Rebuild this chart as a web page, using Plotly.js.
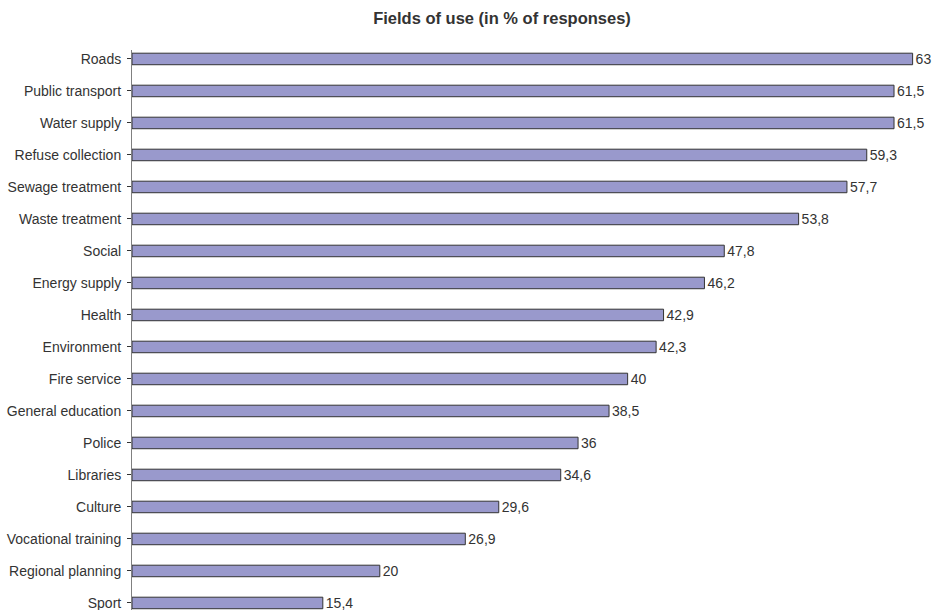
<!DOCTYPE html>
<html>
<head>
<meta charset="utf-8">
<script src="https://cdn.plot.ly/plotly-3.0.1.min.js"></script>
<style>
html,body{margin:0;padding:0;background:#fff;overflow:hidden;}
#chart{width:935px;height:610px;}
</style>
</head>
<body>
<div id="chart"></div>
<script>
const categories = ["Roads","Public transport","Water supply","Refuse collection","Sewage treatment","Waste treatment","Social","Energy supply","Health","Environment","Fire service","General education","Police","Libraries","Culture","Vocational training","Regional planning","Sport"];
const values = [63,61.5,61.5,59.3,57.7,53.8,47.8,46.2,42.9,42.3,40,38.5,36,34.6,29.6,26.9,20,15.4];
const labels = values.map(v => String(v).replace('.', ','));

const trace = {
  type: 'bar',
  orientation: 'h',
  y: categories,
  x: values,
  text: labels,
  textposition: 'outside',
  constraintext: 'none',
  cliponaxis: false,
  textfont: {family: 'Liberation Sans, Arial, sans-serif', size: 14, color: '#333333'},
  marker: {color: '#9999CC', line: {color: '#333333', width: 1}},
  width: 0.36,
  hoverinfo: 'x+y'
};

const n = categories.length;
const layout = {
  width: 935,
  height: 610,
  margin: {l: 132, r: 10, t: 50, b: 0},
  paper_bgcolor: '#ffffff',
  plot_bgcolor: '#ffffff',
  font: {family: 'Liberation Sans, Arial, sans-serif', size: 14, color: '#333333'},
  title: {
    text: '<b>Fields of use (in % of responses)</b>',
    font: {family: 'Liberation Sans, Arial, sans-serif', size: 16.5, color: '#333333'},
    x: 0.4666, xanchor: 'center', xref: 'paper',
    y: 1 - 18/610, yanchor: 'middle', yref: 'container'
  },
  showlegend: false,
  xaxis: {
    range: [0, 64],
    visible: false,
    showgrid: false,
    zeroline: false,
    fixedrange: true
  },
  yaxis: {
    type: 'category',
    autorange: false,
    range: [n - 1 + 0.22, -0.28],
    showgrid: false,
    zeroline: false,
    showline: true,
    linecolor: '#808080',
    linewidth: 1,
    ticks: 'outside',
    ticklen: 4,
    tickcolor: '#333333',
    ticklabelstandoff: 3,
    tickfont: {family: 'Liberation Sans, Arial, sans-serif', size: 14, color: '#333333'},
    fixedrange: true
  }
};

Plotly.newPlot('chart', [trace], layout, {displayModeBar: false, staticPlot: true});
</script>
</body>
</html>
